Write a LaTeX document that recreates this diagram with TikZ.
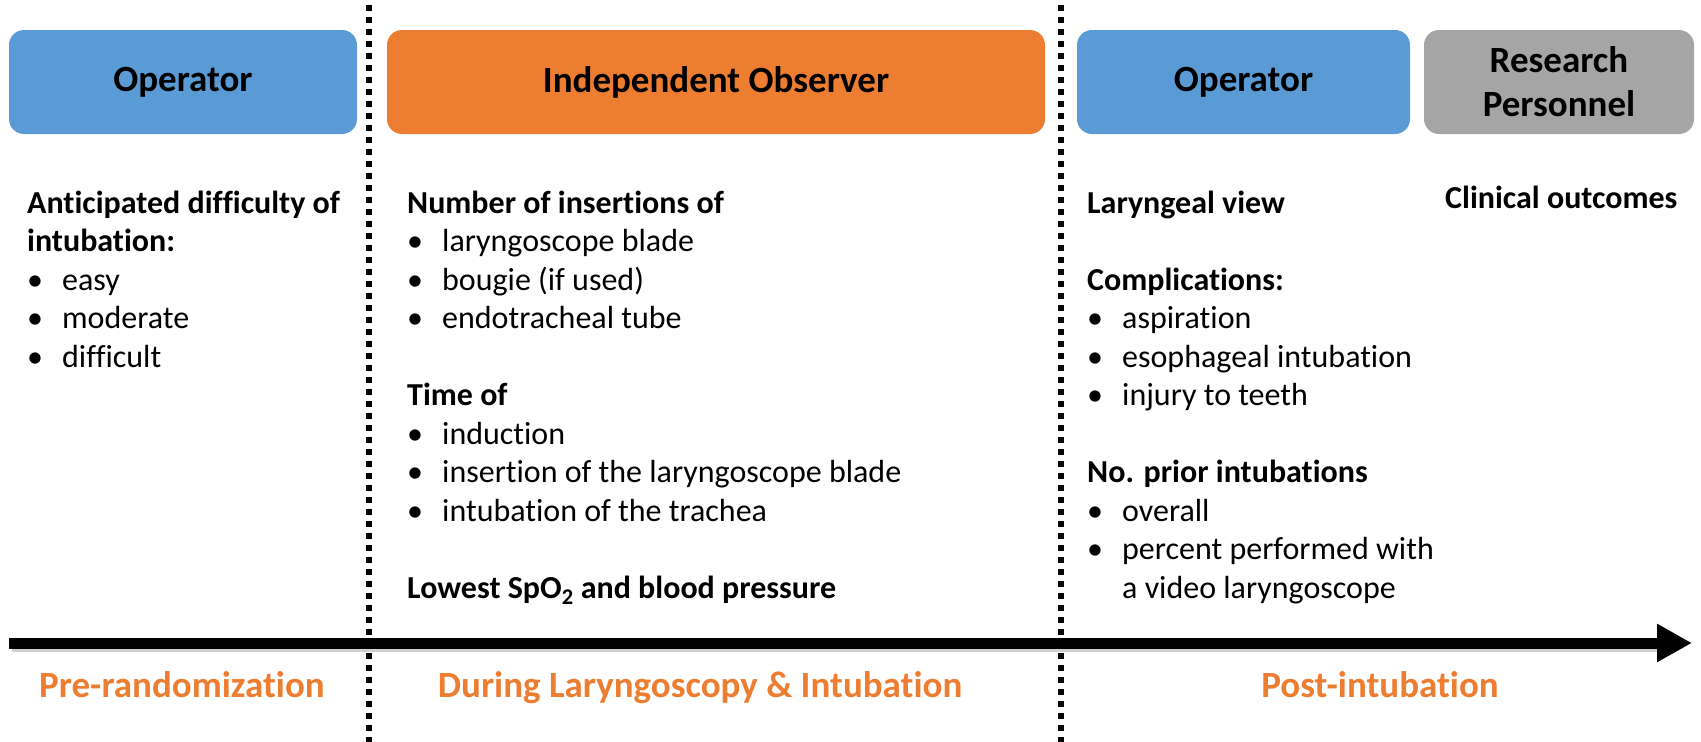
\documentclass[tikz,border=0pt]{standalone}
\usepackage{fontspec}
\setmainfont{Carlito}[RawFeature=-liga]
\usetikzlibrary{arrows.meta}
\definecolor{hdrblue}{HTML}{5B9BD5}
\definecolor{hdrorange}{HTML}{ED7D31}
\definecolor{hdrgray}{HTML}{A5A5A5}
\definecolor{phasecol}{HTML}{ED7D31}
% bullet with fixed hanging indent
\newcommand\bl{\makebox[35pt][l]{\textbullet}}
\newcommand\hg{\hspace*{35pt}}

\tikzset{
  hdr/.style={rounded corners=15pt, inner sep=0pt, minimum height=104pt,
    align=center, font=\fontsize{37}{44}\selectfont\bfseries, text=black},
  body/.style={anchor=base west, inner sep=0pt,
    font=\fontsize{32}{38.5}\selectfont},
  phase/.style={anchor=base, inner sep=0pt, text=phasecol,
    font=\fontsize{37}{44}\selectfont\bfseries},
  divider/.style={line width=6pt, dash pattern=on 6pt off 6pt},
  timeline/.style={line width=11pt, -{Triangle[length=35pt,width=36pt]}},
}

\begin{document}
\begin{tikzpicture}[x=1pt, y=-1pt]
\useasboundingbox (0,0) rectangle (1701,742);

% phase dividers
\coordinate (d1t) at (369,5);
\coordinate (d1b) at (369,742);
\coordinate (d2t) at (1061,5);
\coordinate (d2b) at (1061,742);
\draw[divider] (d1t) -- (d1b);
\draw[divider] (d2t) -- (d2b);

% role headers
\node[hdr, fill=hdrblue,   minimum width=348pt] (op1) at (183,82) {Operator};
\node[hdr, fill=hdrorange, minimum width=658pt] (obs) at (716,82) {Independent Observer};
\node[hdr, fill=hdrblue,   minimum width=333pt] (op2) at (1243.5,82) {Operator};
\node[hdr, fill=hdrgray,   minimum width=270pt] (res) at (1559,82) {Research\\Personnel};

% recorded items
\node[body] (c1) at (27,213) {\begin{tabular}[t]{@{}l@{}}
\bfseries Anticipated difficulty of\\
\bfseries intubation:\\
\bl easy\\
\bl moderate\\
\bl difficult
\end{tabular}};

\node[body] (c2) at (407,213) {\begin{tabular}[t]{@{}l@{}}
\bfseries Number of insertions of\\
\bl laryngoscope blade\\
\bl bougie (if used)\\
\bl endotracheal tube\\
\\
\bfseries Time of\\
\bl induction\\
\bl insertion of the laryngoscope blade\\
\bl intubation of the trachea\\
\\
\bfseries Lowest SpO\textsubscript{2} and blood pressure
\end{tabular}};

\node[body] (c3) at (1087,213) {\begin{tabular}[t]{@{}l@{}}
\bfseries Laryngeal view\\
\\
\bfseries Complications:\\
\bl aspiration\\
\bl esophageal intubation\\
\bl injury to teeth\\
\\
\bfseries No. prior intubations\\
\bl overall\\
\bl percent performed with\\
\hg a video laryngoscope
\end{tabular}};

\node[body, font=\fontsize{32}{38.5}\selectfont\bfseries] (c4) at (1445,208) {Clinical outcomes};

% time axis
\coordinate (tl) at (9,643);
\coordinate (tr) at (1692,643);
\coordinate (tls) at (12,647);
\coordinate (trs) at (1660,647);
\draw[line width=9pt, black!18] (tls) -- (trs);
\draw[timeline] (tl) -- (tr);

% phase labels
\node[phase] (p1) at (182,697) {Pre-randomization};
\node[phase] (p2) at (700,697) {During Laryngoscopy \& Intubation};
\node[phase] (p3) at (1380,697) {Post-intubation};
\end{tikzpicture}
\end{document}
